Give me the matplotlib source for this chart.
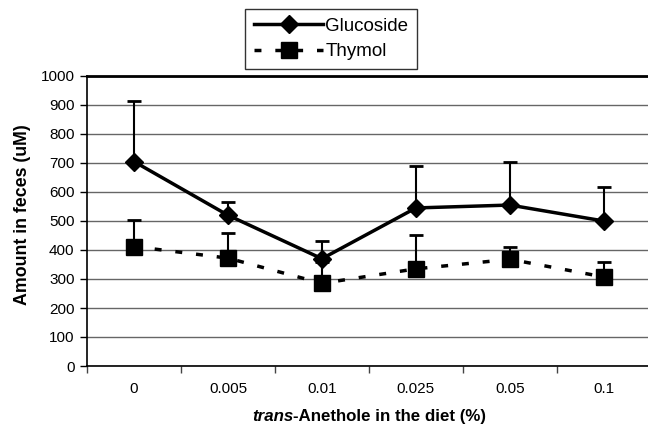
import matplotlib
matplotlib.use("Agg")
import matplotlib.pyplot as plt
import numpy as np

plt.rcParams['font.family'] = ['Liberation Sans', 'DejaVu Sans']

categories = ['0', '0.005', '0.01', '0.025', '0.05', '0.1']
glucoside = [705, 520, 370, 545, 555, 500]
glucoside_err = [210, 45, 60, 143, 150, 118]
thymol = [412, 372, 285, 335, 368, 307]
thymol_err = [93, 88, 75, 115, 42, 51]

fig = plt.figure(figsize=(6.48, 4.26), dpi=100)
ax = fig.add_axes([87/648, 1-366/426, (648-87)/648, (366-76)/426])

x = np.arange(len(categories))

ax.errorbar(x, thymol, yerr=[np.zeros(len(x)), thymol_err], fmt='none',
            ecolor='black', elinewidth=1.5, capsize=5, capthick=2, zorder=3)
ax.errorbar(x, glucoside, yerr=[np.zeros(len(x)), glucoside_err], fmt='none',
            ecolor='black', elinewidth=1.5, capsize=5, capthick=2, zorder=3)
ax.plot(x, glucoside, color='black', lw=2.5, marker='D', markersize=9,
        label='Glucoside', zorder=4)
ax.plot(x, thymol, color='black', lw=2.5, ls=(0, (2, 4)), marker='s',
        markersize=11, label='Thymol', zorder=4)

ax.set_xlim(-0.5, 5.47)
ax.set_ylim(0, 1000)
ax.set_yticks(np.arange(0, 1001, 100))
ax.set_xticks(np.arange(-0.5, 5.5, 1.0))
ax.set_xticklabels([])
ax.tick_params(axis='x', direction='out', length=5, width=1, colors='#444')
ax.tick_params(axis='y', direction='out', length=5, width=1, labelsize=11,
               pad=4)
for xi, lab in zip(x, categories):
    ax.text(xi, -55, lab, ha='center', va='top', fontsize=11)

ax.yaxis.grid(True, color='#666666', lw=1)
ax.set_axisbelow(True)
ax.spines['right'].set_visible(False)
ax.spines['top'].set_linewidth(2)
ax.spines['left'].set_linewidth(1.2)
ax.spines['bottom'].set_linewidth(1.2)

fig.text(23/648, 1-215/426, 'Amount in feces (uM)', fontsize=12.8,
         fontweight='bold', rotation=90, ha='center', va='center')

fig.text(252/648, 1-421/426, 'trans', fontsize=12.2, fontweight='bold',
         style='italic', ha='left', va='baseline')
fig.text(293/648, 1-421/426, '-Anethole in the diet (%)', fontsize=12.2,
         fontweight='bold', ha='left', va='baseline')

leg = fig.legend(loc='center', bbox_to_anchor=(331/648, 1-39/426), frameon=True,
                 fancybox=False, edgecolor='black', fontsize=13.5,
                 handlelength=3.7, handletextpad=0.1, borderpad=0.45,
                 labelspacing=0.45, borderaxespad=0)
leg.get_frame().set_linewidth(1)

fig.savefig('out.png', dpi=100)
